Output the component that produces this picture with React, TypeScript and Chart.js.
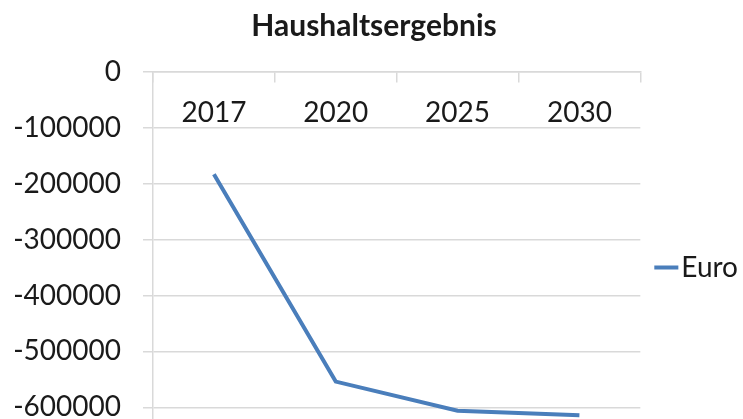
import React, { useEffect, useRef } from "react";
import { Chart, registerables } from "chart.js";

Chart.register(...registerables);

const title = "Haushaltsergebnis";
const categories = ["2017", "2020", "2025", "2030"];
const seriesName = "Euro";
const euroValues = [-183000, -554000, -606000, -614000];
const yMin = -700000;
const yMax = 0;
const yStep = 100000;

const FONT = "Lato, 'Noto Sans', sans-serif";
const TEXT = "#1a1a1a";
const GRID = "#d9d9d9";
const LINE = "#4A7EBB";
const CANVAS_H = 502;

export default function App() {
  const ref = useRef<HTMLCanvasElement | null>(null);
  useEffect(() => {
    if (!ref.current) return;
    const chart = new Chart(ref.current, {
      type: "line",
      data: {
        labels: categories,
        datasets: [
          {
            label: seriesName,
            data: euroValues,
            borderColor: LINE,
            backgroundColor: LINE,
            borderWidth: 4,
            pointRadius: 0,
            tension: 0,
          },
        ],
      },
      options: {
        animation: false,
        responsive: false,
        devicePixelRatio: 1,
        layout: { padding: { left: 0, right: -5, top: 0, bottom: 0 } },
        plugins: {
          title: {
            display: true,
            text: title,
            color: TEXT,
            font: { family: FONT, size: 30, weight: "bold" },
            padding: { top: 8, bottom: 28 },
          },
          legend: {
            display: true,
            position: "right",
            fullSize: false,
            labels: {
              usePointStyle: true,
              pointStyle: "line",
              boxWidth: 2,
              boxHeight: 17,
              padding: 25,
              color: TEXT,
              font: { family: FONT, size: 28 },
            },
          },
          tooltip: { enabled: false },
        },
        scales: {
          x: {
            type: "category",
            position: { y: 0 } as any,
            offset: true,
            afterFit: (s: any) => {
              s.height = 76;
            },
            grid: {
              display: true,
              offset: true,
              drawOnChartArea: false,
              drawTicks: true,
              tickLength: 10,
              color: GRID,
              lineWidth: 1.5,
            },
            border: { display: true, color: GRID, width: 1.5 },
            ticks: {
              color: TEXT,
              font: { family: FONT, size: 28 },
              padding: 14,
              maxRotation: 0,
            },
          },
          y: {
            min: yMin,
            max: yMax,
            afterFit: (s: any) => {
              s.width = 153;
            },
            grid: {
              color: GRID,
              lineWidth: 1.5,
              drawTicks: true,
              tickLength: 10,
            },
            border: { display: true, color: GRID, width: 1.5 },
            ticks: {
              stepSize: yStep,
              color: TEXT,
              padding: 22,
              font: { family: FONT, size: 28 },
              callback: (v: any) => String(v),
            },
          },
        },
      },
    });
    return () => chart.destroy();
  }, []);
  return (
    <div style={{ position: "fixed", left: 0, top: 0, width: 743, height: CANVAS_H, background: "#fff" }}>
      <canvas ref={ref} width={743} height={CANVAS_H} style={{ display: "block" }} />
    </div>
  );
}
